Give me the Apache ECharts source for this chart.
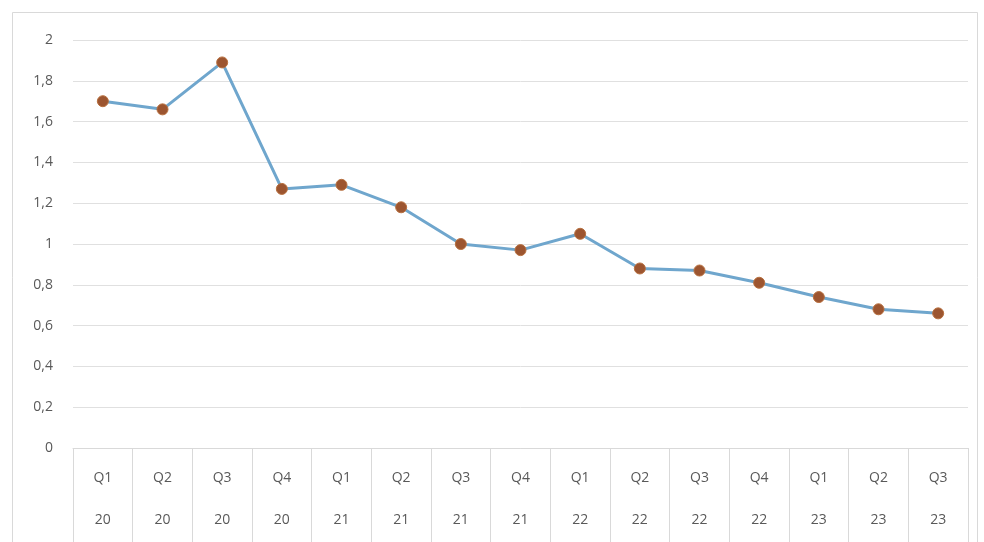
<!DOCTYPE html>
<html>
<head>
<meta charset="utf-8">
<script src="https://cdn.jsdelivr.net/npm/echarts@6/dist/echarts.min.js"></script>
<style>
  html, body { margin: 0; padding: 0; background: #fff; }
  #main { width: 984px; height: 542px; }
</style>
</head>
<body>
<div id="main"></div>
<script>
var quarters = ['Q1', 'Q2', 'Q3', 'Q4', 'Q1', 'Q2', 'Q3', 'Q4', 'Q1', 'Q2', 'Q3', 'Q4', 'Q1', 'Q2', 'Q3'];
var years    = ['20', '20', '20', '20', '21', '21', '21', '21', '22', '22', '22', '22', '23', '23', '23'];
var values   = [1.70, 1.66, 1.89, 1.27, 1.29, 1.18, 1.00, 0.97, 1.05, 0.88, 0.87, 0.81, 0.74, 0.68, 0.66];
var yTicks   = { min: 0, max: 2, step: 0.2 };

var categories = [];
for (var i = 0; i < quarters.length; i++) {
    categories.push(quarters[i] + '\n' + years[i]);
}

var myChart = echarts.init(document.getElementById('main'));
var option = {
    backgroundColor: '#fff',
    animation: false,
    textStyle: { fontFamily: 'Open Sans' },
    graphic: [{
        type: 'rect',
        shape: { x: 12.5, y: 12.5, width: 965, height: 560 },
        style: { fill: 'none', stroke: '#d9d9d9', lineWidth: 1 },
        silent: true
    }],
    grid: { left: 73, right: 16, top: 40, bottom: 94 },
    xAxis: {
        type: 'category',
        data: categories,
        boundaryGap: true,
        axisLine: { lineStyle: { color: '#d9d9d9', width: 1 } },
        axisTick: { show: true, interval: 0, length: 96, lineStyle: { color: '#d9d9d9' } },
        axisLabel: {
            interval: 0,
            margin: 9,
            color: '#595959',
            fontSize: 14,
            lineHeight: 42
        },
        splitLine: { show: false }
    },
    yAxis: {
        type: 'value',
        min: yTicks.min,
        max: yTicks.max,
        interval: yTicks.step,
        axisLine: { show: false },
        axisTick: { show: false },
        axisLabel: {
            margin: 20,
            color: '#595959',
            fontSize: 14,
            formatter: function (v) {
                return String(Math.round(v * 10) / 10).replace('.', ',');
            }
        },
        splitLine: { lineStyle: { color: '#e0e0e0', width: 1 } }
    },
    series: [{
        type: 'line',
        data: values,
        symbol: 'circle',
        symbolSize: 11,
        lineStyle: { color: '#6fa6cd', width: 3 },
        itemStyle: { color: '#9c5530', borderColor: '#b8703f', borderWidth: 1 }
    }]
};
myChart.setOption(option);
</script>
</body>
</html>
